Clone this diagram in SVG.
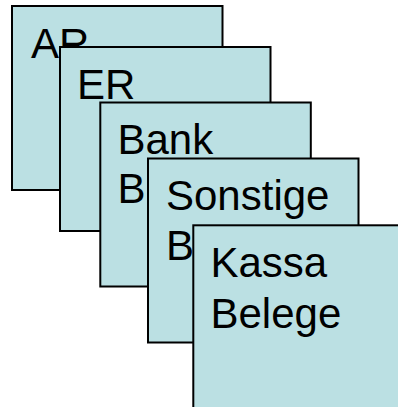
<svg xmlns="http://www.w3.org/2000/svg" width="398" height="407" viewBox="0 0 398 407">
<style>
.box{fill:#BBE0E3;stroke:#000;stroke-width:2}
.lbl{font-family:"Liberation Sans",Arial,sans-serif;font-size:42px;fill:#000}
</style>
<rect width="398" height="407" fill="#fff"/>
<g id="ar">
<rect class="box" x="12" y="6" width="210.5" height="184"/>
<text class="lbl" x="31" y="58">AR</text>
</g>
<g id="er">
<rect class="box" x="60" y="47" width="210.5" height="184"/>
<text class="lbl" x="77" y="99">ER</text>
</g>
<g id="bank">
<rect class="box" x="100.3" y="102.5" width="210.5" height="184"/>
<text class="lbl" x="117.5" y="154">Bank<tspan x="117.5" dy="49">B</tspan></text>
</g>
<g id="sonstige">
<rect class="box" x="148" y="158.5" width="210.5" height="184"/>
<text class="lbl" x="166" y="210">Sonstige<tspan x="166" dy="50">B</tspan></text>
</g>
<g id="kassa">
<rect class="box" x="193.3" y="225.3" width="210.5" height="184"/>
<text class="lbl" x="210.5" y="277">Kassa<tspan x="210.5" dy="51">Belege</tspan></text>
</g>
</svg>
